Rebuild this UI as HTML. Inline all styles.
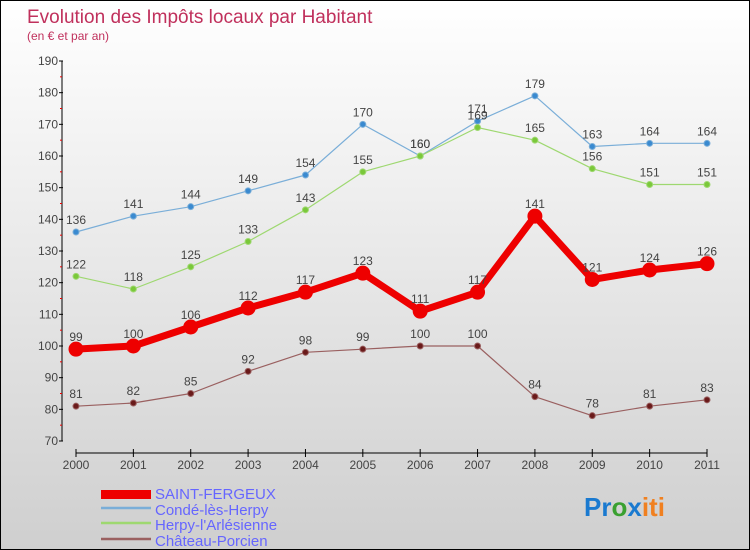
<!DOCTYPE html>
<html><head><meta charset="utf-8"><style>
body{margin:0}
#c{position:relative;width:748px;height:548px;border:1px solid #000;background:linear-gradient(#ffffff,#cfcfcf);font-family:"Liberation Sans",sans-serif;overflow:hidden}
</style></head><body>
<div id="c">
<svg id="s" width="748" height="548" style="position:absolute;left:0;top:0">
<text x="26" y="22" font-size="19" fill="#c0305c">Evolution des Impôts locaux par Habitant</text>
<text x="26" y="39" font-size="12" fill="#c0305c">(en € et par an)</text>
<g id="axes"></g><g id="series"></g>
<g>
<rect x="100" y="489" width="50" height="9" fill="#e00"/>
<text x="154" y="498" font-size="15" fill="#6666ff">SAINT-FERGEUX</text>
<line x1="100" y1="507" x2="150" y2="507" stroke="#7aaed8" stroke-width="2.5"/>
<text x="154" y="514" font-size="15" fill="#6666ff">Condé-lès-Herpy</text>
<line x1="100" y1="522" x2="150" y2="522" stroke="#9ed870" stroke-width="2.5"/>
<text x="154" y="529" font-size="15" fill="#6666ff">Herpy-l'Arlésienne</text>
<line x1="100" y1="538" x2="150" y2="538" stroke="#9a6060" stroke-width="2.5"/>
<text x="154" y="545" font-size="15" fill="#6666ff">Château-Porcien</text>
</g>
<text x="583" y="515" font-size="26" font-weight="bold"><tspan fill="#1a7ad0">Pr</tspan><tspan fill="#3aa030">o</tspan><tspan fill="#1a7ad0">x</tspan><tspan fill="#f08020">iti</tspan></text>
</svg></div>
<script>
const years=[2000,2001,2002,2003,2004,2005,2006,2007,2008,2009,2010,2011];
const yTicks=[70,80,90,100,110,120,130,140,150,160,170,180,190];
const saint=[99,100,106,112,117,123,111,117,141,121,124,126];
const conde=[136,141,144,149,154,170,160,171,179,163,164,164];
const herpy=[122,118,125,133,143,155,160,169,165,156,151,151];
const chateau=[81,82,85,92,98,99,100,100,84,78,81,83];
const NS="http://www.w3.org/2000/svg";
function X(i){return 75+i*(706-75)/11;}
function Y(v){return 440-(v-70)*380/120;}
function mk(p,t,a){const e=document.createElementNS(NS,t);for(const k in a)e.setAttribute(k,a[k]);p.appendChild(e);return e;}
const ax=document.getElementById('axes');
let yl=mk(ax,'line',{x1:61,y1:Y(190),x2:61,y2:Y(70),stroke:'#000'});


yTicks.forEach(v=>{
 mk(ax,'line',{x1:58,y1:Y(v),x2:62,y2:Y(v),stroke:'#000'});
 if(v<190)mk(ax,'line',{x1:59,y1:Y(v+5),x2:61,y2:Y(v+5),stroke:'#e00'});
 const t=mk(ax,'text',{x:57,y:Y(v)+4,'font-size':12,fill:'#444','text-anchor':'end'});t.textContent=v;
 
 
});
let xl=mk(ax,'line',{x1:75,y1:452,x2:706,y2:452,stroke:'#000'});


years.forEach((y,i)=>{
 mk(ax,'line',{x1:X(i),y1:448,x2:X(i),y2:456,stroke:'#000'});
 const t=mk(ax,'text',{x:X(i),y:468,'font-size':12,fill:'#444','text-anchor':'middle'});t.textContent=y;
 
 
});
const sg=document.getElementById('series');
function draw(data,color,dot,w,r,name){
 const g=mk(sg,'g',{});
 
 
 mk(g,'polyline',{points:data.map((v,i)=>X(i)+','+Y(v)).join(' '),fill:'none',stroke:color,'stroke-width':w,'stroke-linejoin':'round'});
 data.forEach((v,i)=>{
  const c=mk(g,'circle',{cx:X(i),cy:Y(v),r:r,fill:dot,stroke:color,'stroke-width':1});
  
  
  const t=mk(g,'text',{x:X(i),y:Y(v)-8,'font-size':12,fill:'#444','text-anchor':'middle'});t.textContent=v;
  
  
 });
}
draw(conde,'#7aaed8','#3a8ad0',1.2,3,'series-conde');
draw(herpy,'#9ed870','#7ac83a',1.2,3,'series-herpy');
draw(chateau,'#9a6060','#6a1a1a',1.2,3,'series-chateau');
draw(saint,'#ee0000','#ee0000',7,7,'series-saint-fergeux');
</script>
</body></html>
